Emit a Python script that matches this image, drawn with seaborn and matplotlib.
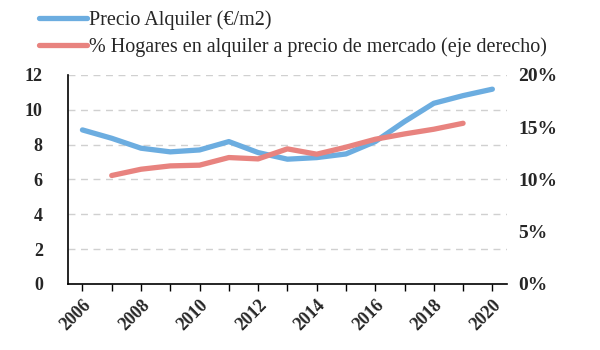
import seaborn as sns
import matplotlib.pyplot as plt
import pandas as pd
from matplotlib.ticker import FuncFormatter

# Datos
years_precio = list(range(2006, 2021))
precio = [8.84, 8.36, 7.79, 7.58, 7.69, 8.17, 7.54, 7.16, 7.25, 7.46,
          8.17, 9.32, 10.37, 10.81, 11.18]

years_hogares = list(range(2007, 2020))
hogares = [10.37, 10.97, 11.29, 11.36, 12.09, 11.96, 12.92, 12.41, 13.08,
           13.84, 14.35, 14.80, 15.37]

label_precio = "Precio Alquiler (€/m2)"
label_hogares = "% Hogares en alquiler a precio de mercado (eje derecho)"

df_p = pd.DataFrame({"year": years_precio, "valor": precio})
df_h = pd.DataFrame({"year": years_hogares, "valor": hogares})

sns.set_theme(style="white")
plt.rcParams['font.family'] = ['Liberation Serif', 'DejaVu Serif']

blue = "#6cade0"
red = "#e8837f"

fig = plt.figure(figsize=(6, 3.5), dpi=100)
ax = fig.add_axes([0.113, 0.189, 0.732, 0.597])
ax2 = ax.twinx()

sns.lineplot(data=df_p, x="year", y="valor", ax=ax, color=blue, lw=3.8,
             label=label_precio, legend=False)
sns.lineplot(data=df_h, x="year", y="valor", ax=ax2, color=red, lw=3.8,
             label=label_hogares, legend=False)

ax.set_xlim(2005.5, 2020.5)
ax.set_ylim(0, 12)
ax.set_yticks(range(0, 13, 2))
ax2.set_ylim(0, 20)
ax2.set_yticks(range(0, 21, 5))
ax2.yaxis.set_major_formatter(FuncFormatter(lambda v, p: f"{v:.0f}%"))

ax.set_xticks(range(2006, 2021))
ax.set_xticklabels([str(y) if y % 2 == 0 else "" for y in range(2006, 2021)],
                   rotation=45, ha="right", rotation_mode="anchor",
                   fontsize=13, fontweight="bold")
ax.tick_params(axis="x", direction="out", length=5, width=1, color="black",
               bottom=True, pad=4)
ax.tick_params(axis="y", length=0, labelsize=13, pad=18)
for t in ax.get_yticklabels():
    t.set_fontweight("bold")
ax2.tick_params(axis="y", length=0, labelsize=14, pad=8)
for t in ax2.get_yticklabels():
    t.set_fontweight("bold")

ax.yaxis.grid(True, linestyle=(0, (5, 4)), color="#d0d0d0", lw=1)
ax.set_axisbelow(True)

for a in (ax, ax2):
    a.set_xlabel("")
    a.set_ylabel("")
    a.spines["top"].set_visible(False)
    a.spines["right"].set_visible(False)
ax2.spines["left"].set_visible(False)
ax2.spines["bottom"].set_visible(False)
ax.spines["left"].set_color("black")
ax.spines["bottom"].set_color("black")
ax.spines["left"].set_linewidth(1.2)
ax.spines["bottom"].set_linewidth(1.2)

h1, l1 = ax.get_legend_handles_labels()
h2, l2 = ax2.get_legend_handles_labels()
fig.legend(h1 + h2, l1 + l2, loc="upper left", bbox_to_anchor=(0.045, 1.005),
           frameon=False, fontsize=14.5, handlelength=2.4, handletextpad=0.1,
           labelspacing=0.35, borderaxespad=0.2)

fig.savefig("out.png", dpi=100)
